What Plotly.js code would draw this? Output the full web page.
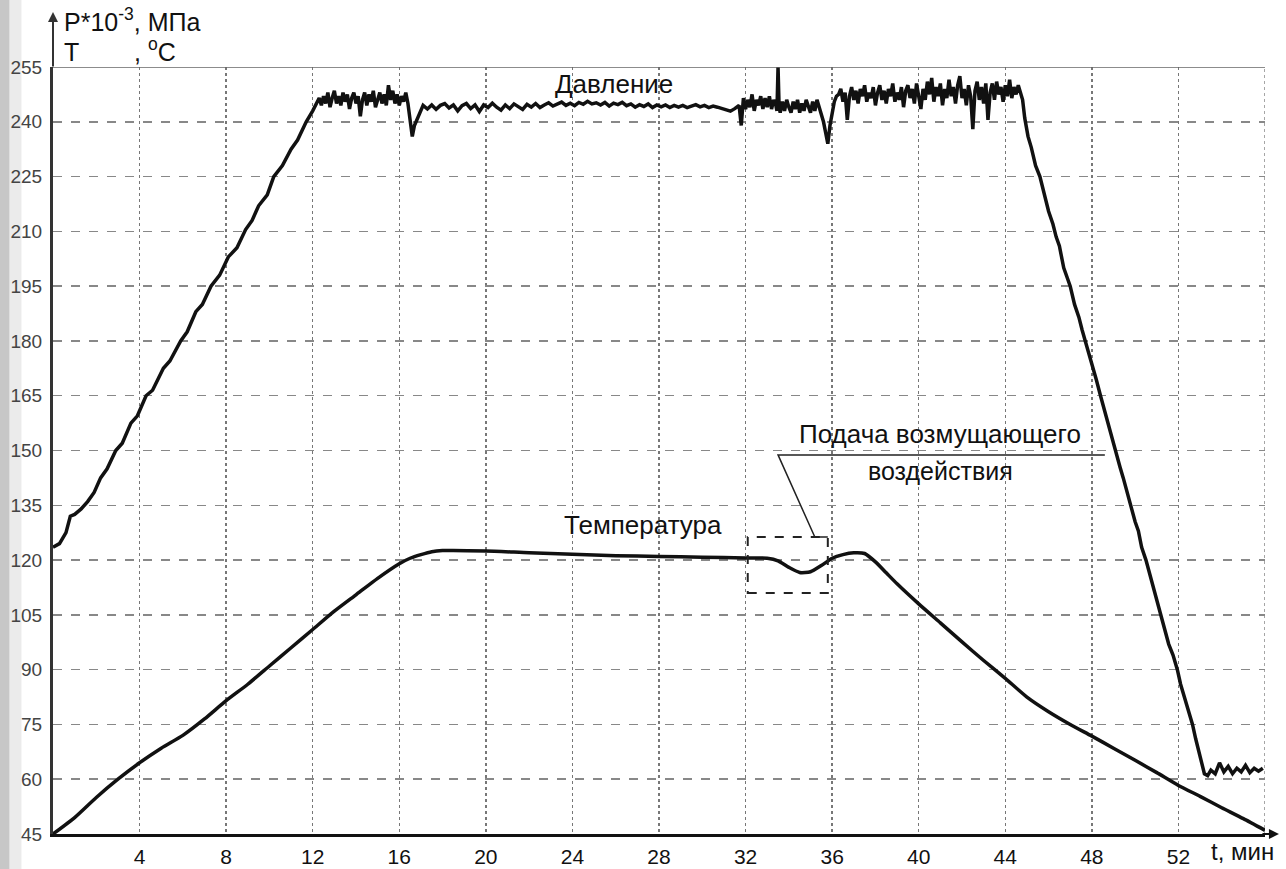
<!DOCTYPE html>
<html>
<head>
<meta charset="utf-8">
<script src="https://cdn.plot.ly/plotly-3.0.1.min.js"></script>
<style>html,body{margin:0;padding:0;background:#fff;}#chart{width:1286px;height:869px;}</style>
</head>
<body>
<div id="chart"></div>
<script>
// Time axis ticks (min)
const xTicks = [4, 8, 12, 16, 20, 24, 28, 32, 36, 40, 44, 48, 52];
const yTicks = [45, 60, 75, 90, 105, 120, 135, 150, 165, 180, 195, 210, 225, 240, 255];

// Pressure P*10^-3, MPa
const riseT = [0,0.3,0.6,0.8,1.0,1.3,1.6,1.9,2.2,2.5,2.9,3.2,3.6,3.9,4.3,4.6,5.1,5.4,5.9,6.2,6.6,6.9,7.3,7.7,8.1,8.5,8.9,9.2,9.5,9.9,10.2,10.6,11.0,11.3,11.7,12.0];
const riseV = [123.5,124.5,127.5,132,132.5,134,136,138.5,142.5,145,150,152,157.5,159.5,165,166.5,172.5,174.5,180,182.5,188,190,195,198,203,205.5,210.5,213,217,220,225,228,232.5,235,240,243];

const plateauAT = [12.3,12.4,12.5,12.6,12.7,12.8,12.9,13.0,13.1,13.2,13.3,13.4,13.5,13.6,13.7,13.8,13.9,14.0,14.1,14.2,14.3,14.4,14.5,14.6,14.7,14.8,14.9,15.0,15.1,15.2,15.3,15.4,15.5,15.6,15.7,15.8,15.9,16.0,16.1,16.2,16.3,16.4,16.5,16.6,16.7,16.9,17.1];
const plateauAV = [246.5,244.5,247,245,248,244,246.5,248.5,245,247,244.5,248,245.5,247.5,243.5,246.5,248,245,247,241.5,246,248,244.5,247.5,245.5,248.5,244,246.5,248,245,247.5,244.5,250,246,248.5,245,247.5,244.5,247,245.5,248,245,240,236,239,242,244.5];

const plateauBT = [17.3,17.5,17.7,17.9,18.1,18.3,18.5,18.7,18.9,19.1,19.3,19.5,19.7,19.9,20.1,20.3,20.5,20.7,20.9,21.1,21.3,21.5,21.7,21.9,
 22.1,22.3,22.5,22.7,22.9,23.1,23.3,23.5,23.7,23.9,24.1,24.3,24.5,24.7,24.9,25.1,25.3,25.5,25.7,25.9,26.1,26.3,26.5,26.7,26.9,
 27.1,27.3,27.5,27.7,27.9,28.1,28.3,28.5,28.7,28.9,29.1,29.3,29.5,29.7,29.9,30.1,30.3,30.5,30.7,30.9,31.1,31.3,31.5];
const plateauBV = [243.5,244.6,243.4,244.5,245,243.8,244.6,243,244.4,245,243.6,244.6,242.8,244.6,243.9,245.1,244,243.2,244.6,243.6,244.9,244.2,243.4,244.8,
 244,245,243.9,244.6,245.2,244.3,244.9,245.4,244.5,245.1,244.4,245.3,244.8,245.6,244.9,245.2,244.6,245.3,244.3,245.1,244.7,245.3,244.4,244.9,244,
 244.7,244.2,244.9,243.9,244.6,244.1,244.6,243.9,244.5,244,244.5,243.9,244.3,244.7,244.1,244.5,243.9,244.3,244,243.6,243.2,242.9,243.6];

const plateauCT = [31.7,31.8,31.9,32.0,32.1,32.2,32.3,32.4,32.5,32.6,32.7,32.8,32.9,33.0,33.1,33.2,33.3,33.4,33.45,33.5,33.55,33.6,33.7,33.8,33.9,34.0,34.1,34.2,34.3,34.4,34.5,34.6,34.7,34.8,34.9,35.0,35.1,35.2,35.3,35.4,35.5,35.6,35.7,35.8,35.9,36.0,36.1,36.2];
const plateauCV = [244.5,239,246.5,243.5,246,244,247.5,243,246,244.5,247,243.5,246.5,244,247,243.5,246,244.5,243,255,244,242.5,245.5,243,246,244,242.5,245.5,243.5,246,242.5,245,243,246,244,242.5,245.5,243,246,244,242.5,240,237,234,239,243,245.5,247];

const plateauDT = [36.3,36.4,36.5,36.6,36.7,36.8,36.9,37.0,37.1,37.2,37.3,37.4,37.5,37.6,37.7,37.8,37.9,38.0,38.1,38.2,38.3,38.4,38.5,38.6,38.7,38.8,38.9,39.0,39.1,39.2,39.3,39.4,39.5,39.6,39.7,39.8,39.9,40.0,40.1,40.2,40.3,40.4,40.5,40.6,40.7,40.8,40.9,41.0,41.1,41.2,41.3,41.4,41.5,41.6,41.7,41.8,41.9,42.0,42.1,42.2,42.3,42.4,42.5,42.6,42.7,42.8,42.9,43.0,43.1,43.2,43.3,43.4,43.5,43.6,43.7,43.8,43.9,44.0,44.1,44.2,44.3,44.4,44.5,44.6,44.7,44.8];
const plateauDV = [247.5,249,245.5,248,240.5,247,249.5,246,248.5,245,249,247,250,245.5,248,246.5,249.5,244.5,248,250,246,248.5,245,249,247,250.5,245.5,248,246,249.5,244,248.5,250,246.5,249,245,250.5,247,243.5,249,246,251,247.5,252,245.5,249.5,247,250.5,244.5,249,246.5,251.5,247,249.5,245,250,252.5,246.5,249,244.5,250,247,238,248.5,251,246,249.5,245,250.5,240.5,248,250.5,246,251,247.5,249.5,245.5,250,247,251.5,246.5,249.5,247.5,250,248,246];

const fallT = [44.9,45.05,45.2,45.4,45.6,45.8,46.0,46.2,46.35,46.5,46.7,46.85,47.0,47.2,47.4,47.55,47.7,47.9,48.05,48.2,48.4,48.6,48.75,48.9,49.1,49.3,49.45,49.6,49.8,50.0,50.15,50.3,50.5,50.7,50.85,51.0,51.2,51.4,51.55,51.75,51.95,52.1,52.3,52.45,52.65,52.8,52.95,53.1,53.2];
const fallV = [241,236,233,228,225,220,215.5,212,208.5,206,200,197.5,195,190,186.5,183,180,175.5,173,169.5,165,160.5,158,154,150,145.5,142.5,139,135,130.5,128,123.5,120,115.5,112.5,109,105,100,97,94,90,86,82,79,75,71,67.5,64,61.5];

const tailT = [53.35,53.5,53.7,53.9,54.1,54.3,54.5,54.7,54.9,55.1,55.3,55.5,55.7,55.9];
const tailV = [61,62.5,61.5,64.5,62,63.5,61.5,63,62,63.8,61.8,63,62.2,63];

// Temperature T, °C
const tempT = [0,1,2,3,4,5,6,7,8,9,10,11,12,13,14,15,16,16.5,17,17.5,18,20,22,24,26,28,30,32,33,33.5,34,34.5,35,35.5,36,36.5,37,37.5,38,38.5,39,40,41,42,43,44,45,46,47,48,49,50,51,52,53,54,55,56];
const tempV = [45,49.5,55,60,64.5,68.5,72,76.5,81.5,86,91,96,101,106,110.5,115,119,120.5,121.5,122.3,122.6,122.5,122,121.6,121.2,121,120.8,120.6,120.5,119.8,118,116.6,116.8,118.5,120.5,121.5,122,121.8,119.5,116.5,113.5,108,102.8,97.6,92.5,87.6,82.5,78.5,75,71.8,68.5,65.2,61.8,58.3,55.3,52.2,49.2,46];

// Disturbance box and leader line (data units)
const boxX = [32.1, 35.8];
const boxY = [111, 126.3];
const leaderX = [35.8, 35.2, 33.5, 48.6];
const leaderY = [126.3, 126.3, 148.8, 148.8];

const pressureT = [].concat(riseT, plateauAT, plateauBT, plateauCT, plateauDT, fallT, tailT);
const pressureV = [].concat(riseV, plateauAV, plateauBV, plateauCV, plateauDV, fallV, tailV);

const traces = [
  {x: pressureT, y: pressureV, type: 'scatter', mode: 'lines', line: {color: '#111', width: 3.5}, hoverinfo: 'skip'},
  {x: tempT, y: tempV, type: 'scatter', mode: 'lines', line: {color: '#111', width: 3.5, shape: 'spline', smoothing: 0.6}, hoverinfo: 'skip'},
  {x: leaderX, y: leaderY, type: 'scatter', mode: 'lines', line: {color: '#222', width: 1.5}, hoverinfo: 'skip'}
];

const font = 'Liberation Sans, Arial, sans-serif';
const layout = {
  width: 1286, height: 869,
  margin: {l: 53, r: 21, t: 67, b: 35},
  paper_bgcolor: '#fff', plot_bgcolor: '#fff',
  showlegend: false,
  font: {family: font, color: '#111'},
  xaxis: {
    range: [0, 56], tickvals: xTicks, ticktext: xTicks.map(String),
    showgrid: true, griddash: 'dot', gridcolor: '#777', gridwidth: 1.5,
    showline: true, linecolor: '#111', linewidth: 3, ticks: '', zeroline: false,
    tickfont: {size: 21, family: font, color: '#111'}, ticklabelstandoff: 2
  },
  yaxis: {
    range: [45, 255], tickvals: yTicks, ticktext: yTicks.map(String),
    showgrid: true, griddash: 'dash', gridcolor: '#888', gridwidth: 1.5,
    showline: true, linecolor: '#333', linewidth: 3, ticks: '', zeroline: false,
    tickfont: {size: 19, family: font, color: '#444'}, ticklabelstandoff: 4
  },
  shapes: [
    {type: 'rect', xref: 'x', yref: 'y', x0: boxX[0], x1: boxX[1], y0: boxY[0], y1: boxY[1], line: {color: '#222', width: 2, dash: 'dash'}},
    {type: 'line', xref: 'x', yref: 'y', x0: 0, x1: 56, y0: 255, y1: 255, line: {color: '#666', width: 1.5}},
    {type: 'line', xref: 'x', yref: 'y', x0: 56, x1: 56, y0: 45, y1: 255, line: {color: '#888', width: 1.5, dash: 'dot'}},
    {type: 'rect', xref: 'paper', yref: 'paper', x0: -0.044, x1: -0.036, y0: -0.05, y1: 1.09, fillcolor: 'rgba(0,0,0,0.22)', line: {width: 0}, layer: 'below'},
    {type: 'rect', xref: 'paper', yref: 'paper', x0: -0.036, x1: -0.026, y0: -0.05, y1: 1.09, fillcolor: 'rgba(0,0,0,0.08)', line: {width: 0}, layer: 'below'}
  ],
  annotations: [
    {xref: 'x', yref: 'y', x: 25.93, y: 250.3, text: 'Давление', showarrow: false, font: {size: 26, family: font, color: '#111'}},
    {xref: 'x', yref: 'y', x: 27.26, y: 129.6, text: 'Температура', showarrow: false, font: {size: 26, family: font, color: '#111'}},
    {xref: 'x', yref: 'y', x: 40.98, y: 154.6, text: 'Подача возмущающего', showarrow: false, font: {size: 26, family: font, color: '#111'}},
    {xref: 'x', yref: 'y', x: 41.0, y: 144.3, text: 'воздействия', showarrow: false, font: {size: 25, family: font, color: '#111'}},
    {xref: 'paper', yref: 'paper', x: 0.0074, y: 1.0378, xanchor: 'left', yanchor: 'bottom', text: 'P*10<sup>-3</sup>, МПа', showarrow: false, font: {size: 25, family: font, color: '#111'}},
    {xref: 'paper', yref: 'paper', x: 0.0074, y: 0.9987, xanchor: 'left', yanchor: 'bottom', text: 'T', showarrow: false, font: {size: 25, family: font, color: '#111'}},
    {xref: 'paper', yref: 'paper', x: 0.0655, y: 0.9987, xanchor: 'left', yanchor: 'bottom', text: ', <sup>o</sup>C', showarrow: false, font: {size: 25, family: font, color: '#111'}},
    {xref: 'paper', yref: 'paper', x: 1.009, y: -0.0222, xanchor: 'right', yanchor: 'middle', text: 't, мин', showarrow: false, font: {size: 24, family: font, color: '#111'}},
    {xref: 'paper', yref: 'paper', x: 0, y: 1.0717, text: '', showarrow: true, arrowhead: 2, arrowsize: 1, arrowwidth: 2, arrowcolor: '#333', ax: 0, ay: 56},
    {xref: 'paper', yref: 'paper', x: 1.0115, y: 0, text: '', showarrow: true, arrowhead: 2, arrowsize: 1, arrowwidth: 2, arrowcolor: '#111', ax: -18, ay: 0}
  ]
};

Plotly.newPlot('chart', traces, layout, {displayModeBar: false, staticPlot: true});
</script>
</body>
</html>
